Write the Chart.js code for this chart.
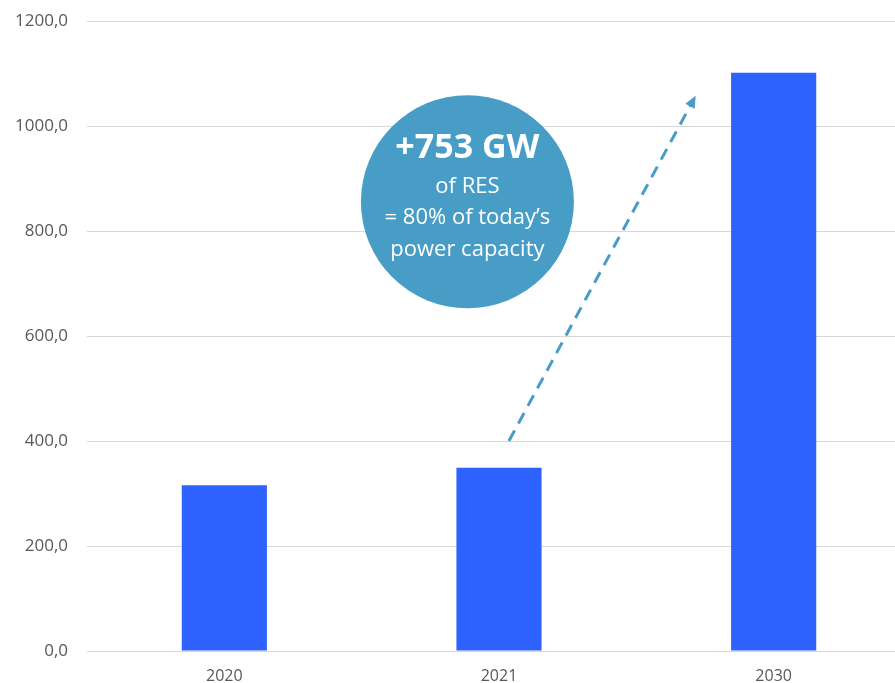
<!DOCTYPE html>
<html>
<head>
<meta charset="utf-8">
<script src="https://cdn.jsdelivr.net/npm/chart.js@4/dist/chart.umd.min.js"></script>
<style>
  html, body { margin: 0; padding: 0; background: #fff; overflow: hidden; }
  #wrap { width: 911px; height: 691px; margin-top: -8px; }
</style>
</head>
<body>
<div id="wrap"><canvas id="chart"></canvas></div>
<script>
const years = ['2020', '2021', '2030'];
const capacity = [316, 349, 1102];
const yTicks = [0, 200, 400, 600, 800, 1000, 1200];
const bubbleLines = ['+753 GW', 'of RES', '= 80% of today\u2019s', 'power capacity'];

const BAR_BLUE = '#2e62ff';
const NOTE_BLUE = '#479dc6';

// bubble + dashed arrow, placed in data coordinates
const growthNote = {
  id: 'growthNote',
  afterDatasetsDraw(chart) {
    const { ctx, scales: { x, y } } = chart;
    ctx.save();

    // dashed arrow from the 2021 bar towards the 2030 bar
    const x0 = x.getPixelForValue(1.036), y0 = y.getPixelForValue(400);
    const x1 = x.getPixelForValue(1.716), y1 = y.getPixelForValue(1058);
    const ang = Math.atan2(y1 - y0, x1 - x0);
    const head = 13;
    ctx.strokeStyle = NOTE_BLUE;
    ctx.fillStyle = NOTE_BLUE;
    ctx.lineWidth = 3;
    ctx.setLineDash([12, 8]);
    ctx.beginPath();
    ctx.moveTo(x0, y0);
    ctx.lineTo(x1 - Math.cos(ang) * head * 0.8, y1 - Math.sin(ang) * head * 0.8);
    ctx.stroke();
    ctx.setLineDash([]);
    ctx.beginPath();
    ctx.moveTo(x1, y1);
    ctx.lineTo(x1 - head * Math.cos(ang - 0.42), y1 - head * Math.sin(ang - 0.42));
    ctx.lineTo(x1 - head * Math.cos(ang + 0.42), y1 - head * Math.sin(ang + 0.42));
    ctx.closePath();
    ctx.fill();

    // circle with the headline
    const cx = x.getPixelForValue(0.885), cy = y.getPixelForValue(856);
    ctx.beginPath();
    ctx.arc(cx, cy, 106.5, 0, Math.PI * 2);
    ctx.fill();

    ctx.fillStyle = '#fff';
    ctx.textAlign = 'center';
    ctx.textBaseline = 'middle';
    ctx.font = 'bold 34px "Open Sans"';
    ctx.fillText(bubbleLines[0], cx, cy - 53);
    ctx.font = '22px "Open Sans"';
    ctx.fillText(bubbleLines[1], cx, cy - 15);
    ctx.fillText(bubbleLines[2], cx, cy + 16);
    ctx.fillText(bubbleLines[3], cx, cy + 48);
    ctx.restore();
  }
};

new Chart(document.getElementById('chart'), {
  type: 'bar',
  data: {
    labels: years,
    datasets: [{
      data: capacity,
      backgroundColor: BAR_BLUE,
      barPercentage: 0.31,
      categoryPercentage: 1
    }]
  },
  options: {
    responsive: true,
    maintainAspectRatio: false,
    animation: false,
    layout: { padding: { top: 3, right: 0, left: 0, bottom: 0 } },
    plugins: { legend: { display: false }, tooltip: { enabled: false } },
    scales: {
      x: {
        afterFit(scale) { scale.height = 32; },
        grid: { display: false },
        border: { color: '#d9d9d9', width: 1 },
        ticks: { color: '#595959', font: { family: 'Open Sans', size: 16 }, padding: 8 }
      },
      y: {
        min: 0,
        max: 1200,
        afterBuildTicks(scale) { scale.ticks = yTicks.map(v => ({ value: v })); },
        afterFit(scale) { scale.width = 87; },
        border: { display: false },
        grid: { color: '#d9d9d9', lineWidth: 1, drawTicks: false },
        ticks: {
          color: '#595959',
          font: { family: 'Open Sans', size: 17 },
          padding: 19,
          callback: v => v.toFixed(1).replace('.', ',')
        }
      }
    }
  },
  plugins: [growthNote]
});
</script>
</body>
</html>
